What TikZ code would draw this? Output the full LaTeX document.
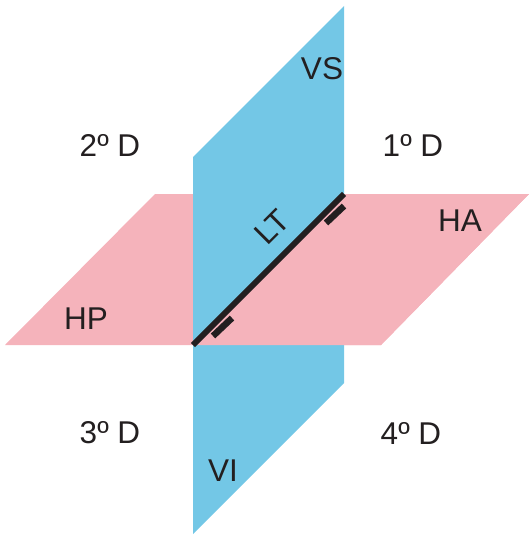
\documentclass[tikz,border=0pt]{standalone}
\usepackage{fontspec}
\setmainfont{Liberation Sans}
\usetikzlibrary{arrows.meta,calc,positioning}
\definecolor{planeblue}{RGB}{115,199,230}
\definecolor{planepink}{RGB}{245,179,187}
\definecolor{inkblack}{RGB}{35,31,32}

\begin{document}
\begin{tikzpicture}[x=1pt,y=-1pt,
every node/.style={font=\fontsize{31.5}{38}\selectfont,text=inkblack,inner sep=0pt},
edgeline/.style={draw=inkblack,line width=6pt},
markline/.style={draw=inkblack,line width=6.5pt}]
\useasboundingbox (0,0) rectangle (529,535);
\coordinate (P1) at (155,194);
\coordinate (P2) at (529,194);
\coordinate (P3) at (381,345);
\coordinate (P4) at (5,345);
\coordinate (B1) at (193,157);
\coordinate (B2) at (344,6);
\coordinate (B3) at (344,383);
\coordinate (B4) at (193,534);
\coordinate (L1) at (193,345);
\coordinate (L2) at (344,194);
\coordinate (M1) at (213,336);
\coordinate (M2) at (232,318);
\coordinate (M3) at (326,223);
\coordinate (M4) at (344,206);
\fill[planepink] (P1)--(P2)--(P3)--(P4)--cycle;
\fill[planeblue] (B1)--(B2)--(B3)--(B4)--cycle;
\fill[planepink] (L1)--(L2)--(P2)--(P3)--cycle;
\draw[edgeline] (L1)--(L2);
\draw[markline] (M1)--(M2);
\draw[markline] (M3)--(M4);
\node (VS) at (322,69) {VS};
\node (VI) at (223,471) {VI};
\node (HA) at (460,221) {HA};
\node (HP) at (86,319) {HP};
\node[rotate=45] (LT) at (272,227) {LT};
\node (D1) at (413,145) {1º D};
\node (D2) at (110,145) {2º D};
\node (D3) at (110,433) {3º D};
\node (D4) at (411,433) {4º D};
\end{tikzpicture}
\end{document}
